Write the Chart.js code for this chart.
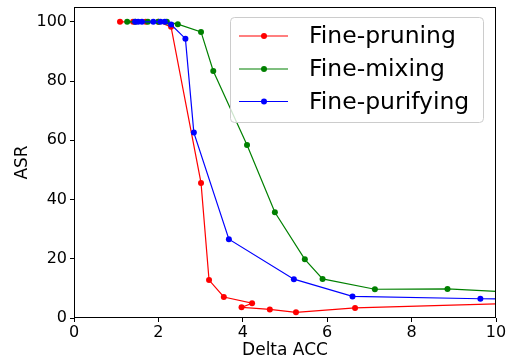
<!DOCTYPE html>
<html>
<head>
<meta charset="utf-8">
<script src="https://cdn.jsdelivr.net/npm/chart.js@4"></script>
<style>
html,body{margin:0;padding:0;background:#fff;}
canvas{display:block;}
</style>
</head>
<body>
<canvas id="c" width="513" height="363"></canvas>
<script>
const seriesNames = ["Fine-pruning", "Fine-mixing", "Fine-purifying"];
const seriesColors = ["#ff0000", "#008000", "#0000ff"];

const pruneX = [1.09, 1.40, 1.70, 2.00, 2.30, 3.01, 3.20, 3.55, 4.22, 3.97, 4.64, 5.26, 6.66, 12.0];
const pruneY = [100, 100, 100, 100, 98.3, 45.6, 12.8, 7.1, 5.0, 3.6, 2.9, 1.9, 3.4, 5.6];

const mixX = [1.26, 1.45, 1.75, 2.00, 2.20, 2.46, 3.01, 3.30, 4.10, 4.76, 5.47, 5.89, 7.13, 8.85, 12.0];
const mixY = [100, 100, 100, 100, 100, 99.2, 96.6, 83.4, 58.4, 35.7, 19.8, 13.2, 9.7, 9.8, 7.6];

const purX = [1.45, 1.52, 1.61, 1.88, 2.05, 2.15, 2.30, 2.64, 2.84, 3.67, 5.21, 6.60, 9.63, 11.0];
const purY = [100, 100, 100, 100, 100, 100, 99.1, 94.3, 62.6, 26.6, 13.1, 7.3, 6.5, 6.4];

const xTicks = [0, 2, 4, 6, 8, 10];
const yTicks = [0, 20, 40, 60, 80, 100];

const FONT = "'DejaVu Sans', sans-serif";

function pts(xs, ys) { return xs.map((x, i) => ({x: x, y: ys[i]})); }

function ds(i, xs, ys, order) {
  return {
    label: seriesNames[i],
    data: pts(xs, ys),
    showLine: true,
    borderColor: seriesColors[i],
    backgroundColor: seriesColors[i],
    pointBackgroundColor: seriesColors[i],
    pointBorderColor: seriesColors[i],
    pointBorderWidth: 0,
    pointRadius: 3,
    borderWidth: 1.2,
    tension: 0,
    order: order
  };
}

const framePlugin = {
  id: 'frame',
  afterDatasetsDraw(chart) {
    const a = chart.chartArea, ctx = chart.ctx;
    ctx.save();
    ctx.strokeStyle = '#000';
    ctx.lineWidth = 1;
    ctx.strokeRect(Math.round(a.left) + 0.5, Math.round(a.top) + 0.5,
                   Math.round(a.right - a.left) - 1, Math.round(a.bottom - a.top) - 1);
    ctx.restore();
  },
  afterDraw(chart) {
    const ctx = chart.ctx;
    ctx.save();
    const bx = 230.5, by = 17.5, bw = 253, bh = 105, r = 4;
    ctx.beginPath();
    ctx.moveTo(bx + r, by);
    ctx.lineTo(bx + bw - r, by);
    ctx.quadraticCurveTo(bx + bw, by, bx + bw, by + r);
    ctx.lineTo(bx + bw, by + bh - r);
    ctx.quadraticCurveTo(bx + bw, by + bh, bx + bw - r, by + bh);
    ctx.lineTo(bx + r, by + bh);
    ctx.quadraticCurveTo(bx, by + bh, bx, by + bh - r);
    ctx.lineTo(bx, by + r);
    ctx.quadraticCurveTo(bx, by, bx + r, by);
    ctx.closePath();
    ctx.fillStyle = 'rgba(255,255,255,0.8)';
    ctx.fill();
    ctx.strokeStyle = '#cccccc';
    ctx.lineWidth = 1;
    ctx.stroke();
    const rows = [36, 69, 101.5];
    ctx.font = "23.5px " + FONT;
    ctx.textBaseline = 'middle';
    ctx.textAlign = 'left';
    for (let i = 0; i < 3; i++) {
      const y = rows[i];
      ctx.strokeStyle = seriesColors[i];
      ctx.lineWidth = 1.2;
      ctx.beginPath();
      ctx.moveTo(239, y);
      ctx.lineTo(288, y);
      ctx.stroke();
      ctx.fillStyle = seriesColors[i];
      ctx.beginPath();
      ctx.arc(264, y, 3, 0, Math.PI * 2);
      ctx.fill();
      ctx.fillStyle = '#000';
      ctx.fillText(seriesNames[i], 309, y + 1);
    }
    ctx.restore();
  }
};

new Chart(document.getElementById('c'), {
  type: 'scatter',
  data: {
    datasets: [
      ds(0, pruneX, pruneY, 2),
      ds(1, mixX, mixY, 1),
      ds(2, purX, purY, 0)
    ]
  },
  options: {
    responsive: false,
    animation: false,
    devicePixelRatio: 1,
    layout: { padding: { top: 7, right: 17, left: 0, bottom: 0 } },
    plugins: { legend: { display: false }, tooltip: { enabled: false } },
    scales: {
      x: {
        type: 'linear',
        min: 0, max: 10,
        afterFit(s) { s.height = 45; s.paddingLeft = 0; s.paddingRight = 0; },
        afterBuildTicks(s) { s.ticks = xTicks.map(v => ({value: v})); },
        ticks: { font: { family: FONT, size: 16 }, color: '#000', padding: 1, maxRotation: 0, includeBounds: false },
        grid: { drawOnChartArea: false, drawTicks: true, tickLength: 4, tickColor: '#000', color: '#000' },
        border: { display: false },
        title: { display: true, text: 'Delta ACC', color: '#000', font: { family: FONT, size: 17 }, padding: { top: 0, bottom: 2 } }
      },
      y: {
        type: 'linear',
        min: 0, max: 105,
        afterFit(s) { s.width = 74; s.paddingTop = 0; s.paddingBottom = 0; },
        afterBuildTicks(s) { s.ticks = yTicks.map(v => ({value: v})); },
        ticks: { font: { family: FONT, size: 16 }, color: '#000', padding: 3, includeBounds: false },
        grid: { drawOnChartArea: false, drawTicks: true, tickLength: 4, tickColor: '#000', color: '#000' },
        border: { display: false },
        title: { display: true, text: 'ASR', color: '#000', font: { family: FONT, size: 17 }, padding: { top: 12, bottom: 0 } }
      }
    }
  },
  plugins: [framePlugin]
});
</script>
</body>
</html>
